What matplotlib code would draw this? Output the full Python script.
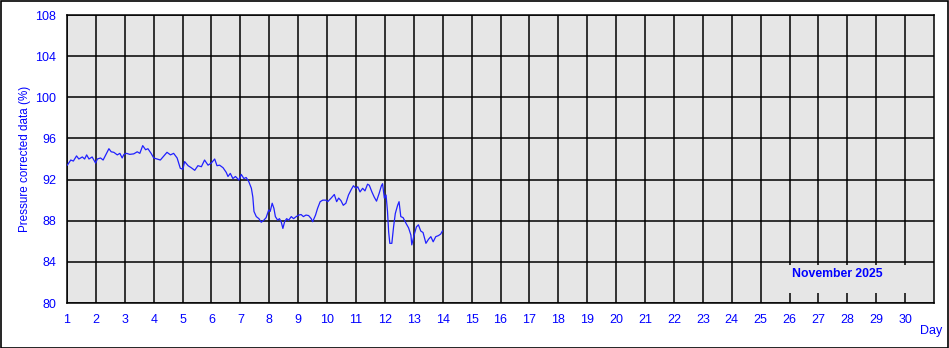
import matplotlib
matplotlib.use("Agg")
import matplotlib.pyplot as plt
from matplotlib.patches import Rectangle

plt.rcParams['font.family'] = ['Liberation Sans', 'DejaVu Sans']

# day of month (fractional) and pressure corrected value (%)
days = [1.01, 1.13, 1.22, 1.33, 1.41, 1.53, 1.61, 1.68, 1.76, 1.87, 1.99,
        2.05, 2.16, 2.25, 2.37, 2.45, 2.53, 2.62, 2.74, 2.83, 2.91, 2.97,
        3.06, 3.17, 3.31, 3.43, 3.52, 3.62, 3.72, 3.80, 3.91, 4.00, 4.12,
        4.23, 4.35, 4.46, 4.58, 4.69, 4.81, 4.92, 5.01, 5.07, 5.19, 5.30,
        5.42, 5.53, 5.65, 5.76, 5.88, 5.99, 6.11, 6.19, 6.28, 6.40, 6.51,
        6.57, 6.65, 6.74, 6.83, 6.95, 7.03, 7.12, 7.20, 7.29, 7.38, 7.43,
        7.47, 7.55, 7.64, 7.72, 7.81, 7.89, 7.98, 8.03, 8.10, 8.16, 8.21,
        8.29, 8.35, 8.41, 8.47, 8.53, 8.60, 8.67, 8.76, 8.84, 8.93, 9.02,
        9.10, 9.18, 9.27, 9.36, 9.45, 9.50, 9.60, 9.67, 9.76, 9.85, 9.96,
        10.02, 10.14, 10.25, 10.33, 10.40, 10.48, 10.56, 10.65, 10.74,
        10.83, 10.91, 11.00, 11.06, 11.14, 11.23, 11.31, 11.40, 11.46,
        11.55, 11.63, 11.71, 11.80, 11.88, 11.92, 11.98, 12.04, 12.09,
        12.13, 12.17, 12.24, 12.30, 12.36, 12.44, 12.49, 12.55, 12.63,
        12.73, 12.82, 12.90, 12.93, 13.01, 13.09, 13.16, 13.24, 13.32,
        13.42, 13.51, 13.59, 13.67, 13.76, 13.85, 13.93, 13.99]
values = [93.4, 93.9, 93.8, 94.3, 94.0, 94.2, 94.0, 94.4, 94.0, 94.2, 93.6,
          94.0, 94.1, 93.9, 94.55, 95.0, 94.7, 94.65, 94.4, 94.55, 94.1, 94.45,
          94.55, 94.45, 94.5, 94.7, 94.55, 95.3, 94.9, 95.0, 94.55, 94.1, 94.0,
          93.9, 94.3, 94.65, 94.4, 94.55, 94.1, 93.1, 93.0, 93.75, 93.35, 93.15,
          92.9, 93.35, 93.25, 93.9, 93.4, 93.6, 94.0, 93.35, 93.4, 93.15, 92.7,
          92.3, 92.6, 92.1, 92.3, 91.95, 92.5, 92.1, 92.2, 91.8, 91.15, 90.3,
          88.9, 88.4, 88.2, 87.85, 88.05, 88.3, 89.05, 88.9, 89.7, 89.2, 88.4,
          88.05, 88.2, 87.9, 87.25, 87.9, 88.2, 88.05, 88.4, 88.2, 88.4, 88.55,
          88.6, 88.4, 88.55, 88.5, 88.2, 87.9, 88.55, 89.2, 89.85, 90.0, 90.0,
          89.85, 90.2, 90.55, 89.85, 90.2, 89.95, 89.5, 89.7, 90.5,
          91.0, 91.4, 91.15, 91.3, 90.8, 91.15, 90.9, 91.55, 91.45,
          90.8, 90.3, 89.9, 90.65, 91.4, 91.6, 90.2, 90.5, 88.9,
          86.9, 85.8, 85.8, 87.4, 88.7, 89.5, 89.85, 88.4, 88.3,
          87.75, 87.3, 86.6, 85.65, 86.6, 87.4, 87.6, 87.0, 86.85,
          85.8, 86.2, 86.45, 85.95, 86.45, 86.55, 86.7, 87.0]

x_ticks = list(range(1, 31))
y_ticks = [80, 84, 88, 92, 96, 100, 104, 108]
month_label = "November 2025"
blue = "#0000ff"

fig = plt.figure(figsize=(9.49, 3.48), dpi=100)
ax = fig.add_axes([67 / 949, 45 / 348, 867 / 949, 288 / 348])
ax.set_facecolor("#e6e6e6")
ax.set_axisbelow(True)

ax.plot(days, values, color="#2020ff", lw=0.9, zorder=4)

ax.set_xlim(1, 31)
ax.set_ylim(80, 108)
ax.set_xticks(x_ticks)
ax.set_yticks(y_ticks)
ax.grid(True, color="black", lw=1.1)
ax.tick_params(length=0, colors=blue, labelsize=9)
ax.tick_params(axis="x", pad=8)
ax.tick_params(axis="y", pad=8)
for s in ax.spines.values():
    s.set_linewidth(1.1)

ax.set_ylabel("Pressure corrected data (%)", color=blue, fontsize=8.4,
              labelpad=3)
fig.text(931 / 949, 1 - 331 / 348, "Day", color=blue, fontsize=9,
         ha="center", va="center")

# box behind month label hides grid lines
ax.add_patch(Rectangle((0.828, 0.035), 0.167, 0.097, transform=ax.transAxes,
                       facecolor="#e6e6e6", edgecolor="none", zorder=2))
ax.text(0.888, 0.099, month_label, transform=ax.transAxes, color=blue,
        fontsize=8.8, fontweight="bold", ha="center", va="center", zorder=3)

fig.add_artist(Rectangle((0.5 / 949, 0.5 / 348), 947.5 / 949, 346.5 / 348,
                         transform=fig.transFigure, facecolor="none",
                         edgecolor="black", lw=1.2))

fig.savefig("out.png", dpi=100)
